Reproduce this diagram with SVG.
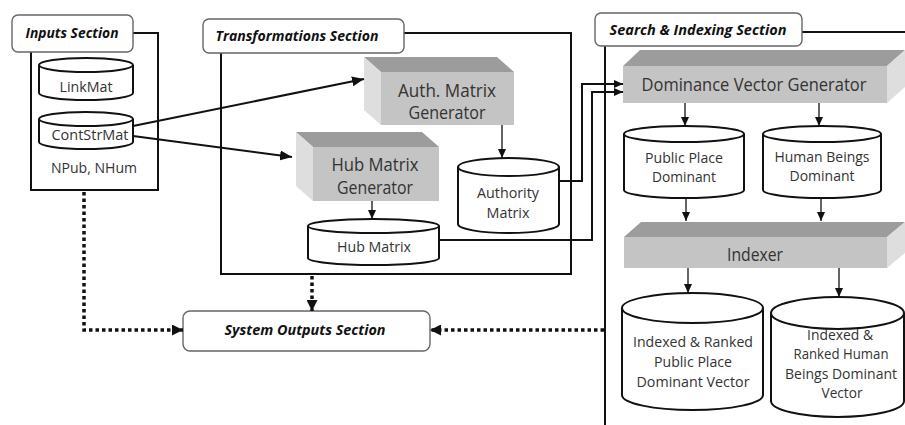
<svg xmlns="http://www.w3.org/2000/svg" width="905" height="425" viewBox="0 0 905 425">
  <defs>
    <style>
      .frame { fill: none; stroke: #111; stroke-width: 2; }
      .label { fill: #fff; stroke: #666; stroke-width: 1.4; }
      .lbl { font-family: "Open Sans", "Liberation Sans", sans-serif; font-size: 14px; font-weight: bold; font-style: italic; fill: #111; text-anchor: middle; }
      .txt { font-family: "Open Sans", "Liberation Sans", sans-serif; font-size: 14px; fill: #333; text-anchor: middle; }
      .big { font-family: "Open Sans", "Liberation Sans", sans-serif; font-size: 18px; fill: #333; text-anchor: middle; }
      .cyl { fill: #fff; stroke: #111; stroke-width: 2; }
      .front { fill: #c4c4c4; }
      .top { fill: #9c9c9c; }
      .side { fill: #dedede; }
      .wire { fill: none; stroke: #111; stroke-width: 2; }
      .thin { fill: none; stroke: #111; stroke-width: 1.3; }
      .dots { fill: none; stroke: #111; stroke-width: 3.5; stroke-dasharray: 3.5 3; }
    </style>
    <marker id="head" markerUnits="userSpaceOnUse" markerWidth="12" markerHeight="10" refX="12" refY="5" orient="auto">
      <path d="M0,0 L12,5 L0,10 Z" fill="#111"/>
    </marker>
    <marker id="headSmall" markerUnits="userSpaceOnUse" markerWidth="9" markerHeight="8" refX="9" refY="4" orient="auto">
      <path d="M0,0 L9,4 L0,8 Z" fill="#111"/>
    </marker>
    <marker id="headDot" markerUnits="userSpaceOnUse" markerWidth="11" markerHeight="11" refX="11" refY="5.5" orient="auto">
      <path d="M0,0 L11,5.5 L0,11 Z" fill="#111"/>
    </marker>
  </defs>

  <rect width="905" height="425" fill="#fff"/>

  <!-- Inputs section -->
  <g id="inputs-section">
    <path class="frame" d="M133,33 H158 V190 H31 V52"/>
    <rect class="label" x="12" y="15" width="121" height="37" rx="6"/>
    <text class="lbl" x="72" y="38" textLength="93" lengthAdjust="spacingAndGlyphs">Inputs Section</text>
  </g>
  <g id="linkmat">
    <path class="cyl" d="M39,65 V93 A47,7 0 0 0 133,93 V65"/>
    <ellipse class="cyl" cx="86" cy="65" rx="47" ry="7"/>
    <text class="txt" x="86" y="92" textLength="53" lengthAdjust="spacingAndGlyphs">LinkMat</text>
  </g>
  <g id="contstrmat">
    <path class="cyl" d="M39,119 V142 A47,7 0 0 0 133,142 V119"/>
    <ellipse class="cyl" cx="86" cy="119" rx="47" ry="7"/>
    <text class="txt" x="90" y="140" font-size="13" textLength="77" lengthAdjust="spacingAndGlyphs">ContStrMat</text>
  </g>
  <g id="npub-nhum">
    <text class="txt" x="94" y="173" font-size="15" textLength="86" lengthAdjust="spacingAndGlyphs">NPub, NHum</text>
  </g>

  <!-- Transformations section -->
  <g id="transformations-section">
    <path class="frame" d="M404,33 H571 V274 H221 V53"/>
    <rect class="label" x="203" y="19" width="201" height="34" rx="6"/>
    <text class="lbl" x="297" y="41" textLength="163" lengthAdjust="spacingAndGlyphs">Transformations Section</text>
  </g>
  <g id="auth-generator">
    <polygon class="top" points="364,57 497,57 514,72 381,72"/>
    <polygon class="side" points="364,57 381,72 381,125 364,110"/>
    <rect class="front" x="381" y="72" width="133" height="53"/>
    <text class="big" x="447" y="97" textLength="98" lengthAdjust="spacingAndGlyphs">Auth. Matrix</text>
    <text class="big" x="447" y="119" textLength="77" lengthAdjust="spacingAndGlyphs">Generator</text>
  </g>
  <g id="hub-generator">
    <polygon class="top" points="296,132 422,132 439,147 313,147"/>
    <polygon class="side" points="296,132 313,147 313,201 296,186"/>
    <rect class="front" x="313" y="147" width="126" height="54"/>
    <text class="big" x="375" y="171" textLength="87" lengthAdjust="spacingAndGlyphs">Hub Matrix</text>
    <text class="big" x="375" y="194" textLength="76" lengthAdjust="spacingAndGlyphs">Generator</text>
  </g>
  <g id="authority-matrix">
    <path class="cyl" d="M458,167 V224 A50.5,9 0 0 0 559,224 V167"/>
    <ellipse class="cyl" cx="508.5" cy="167" rx="50.5" ry="9"/>
    <text class="txt" x="508" y="198" textLength="62" lengthAdjust="spacingAndGlyphs">Authority</text>
    <text class="txt" x="508" y="218" textLength="43" lengthAdjust="spacingAndGlyphs">Matrix</text>
  </g>
  <g id="hub-matrix">
    <path class="cyl" d="M308,226 V258 A65.5,7 0 0 0 439,258 V226"/>
    <ellipse class="cyl" cx="373.5" cy="226" rx="65.5" ry="7"/>
    <text class="txt" x="374" y="252" textLength="74" lengthAdjust="spacingAndGlyphs">Hub Matrix</text>
  </g>

  <!-- Search & indexing section -->
  <g id="search-indexing-section">
    <path class="frame" d="M802,32 H905 M605,46 V425"/>
    <rect class="label" x="595" y="13" width="207" height="33" rx="6"/>
    <text class="lbl" x="698" y="35" textLength="177" lengthAdjust="spacingAndGlyphs">Search &amp; Indexing Section</text>
  </g>
  <g id="dominance-generator">
    <polygon class="top" points="623,66 640,50 905,50 887,66"/>
    <polygon class="side" points="887,66 905,50 905,87 887,103"/>
    <rect class="front" x="623" y="66" width="264" height="37"/>
    <text class="big" x="754" y="91" font-size="19" textLength="225" lengthAdjust="spacingAndGlyphs">Dominance Vector Generator</text>
  </g>
  <g id="public-place-dominant">
    <path class="cyl" d="M624,134 V190 A60,8 0 0 0 744,190 V134"/>
    <ellipse class="cyl" cx="684" cy="134" rx="60" ry="8"/>
    <text class="txt" x="684" y="163" textLength="78" lengthAdjust="spacingAndGlyphs">Public Place</text>
    <text class="txt" x="684" y="182" textLength="64" lengthAdjust="spacingAndGlyphs">Dominant</text>
  </g>
  <g id="human-beings-dominant">
    <path class="cyl" d="M763,134 V190 A59,8 0 0 0 881,190 V134"/>
    <ellipse class="cyl" cx="822" cy="134" rx="59" ry="8"/>
    <text class="txt" x="822" y="162" textLength="95" lengthAdjust="spacingAndGlyphs">Human Beings</text>
    <text class="txt" x="822" y="181" textLength="65" lengthAdjust="spacingAndGlyphs">Dominant</text>
  </g>
  <g id="indexer">
    <polygon class="top" points="624,237 641,222 905,222 887,237"/>
    <polygon class="side" points="887,237 905,222 905,253 887,268"/>
    <rect class="front" x="624" y="237" width="263" height="31"/>
    <text class="big" x="755" y="261" textLength="56" lengthAdjust="spacingAndGlyphs">Indexer</text>
  </g>
  <g id="indexed-public-place">
    <path class="cyl" d="M622,308 V395 A70.5,15 0 0 0 763,395 V308"/>
    <ellipse class="cyl" cx="692.5" cy="308" rx="70.5" ry="15"/>
    <text class="txt" x="693" y="347" textLength="120" lengthAdjust="spacingAndGlyphs">Indexed &amp; Ranked</text>
    <text class="txt" x="693" y="367" textLength="78" lengthAdjust="spacingAndGlyphs">Public Place</text>
    <text class="txt" x="693" y="387" textLength="113" lengthAdjust="spacingAndGlyphs">Dominant Vector</text>
  </g>
  <g id="indexed-human-beings">
    <path class="cyl" d="M771,313 V401 A66.5,16 0 0 0 904,401 V313"/>
    <ellipse class="cyl" cx="837.5" cy="313" rx="66.5" ry="16"/>
    <text class="txt" x="840" y="340" textLength="66" lengthAdjust="spacingAndGlyphs">Indexed &amp;</text>
    <text class="txt" x="841" y="359" textLength="95" lengthAdjust="spacingAndGlyphs">Ranked Human</text>
    <text class="txt" x="841" y="379" textLength="112" lengthAdjust="spacingAndGlyphs">Beings Dominant</text>
    <text class="txt" x="842" y="398" textLength="41" lengthAdjust="spacingAndGlyphs">Vector</text>
  </g>

  <!-- System outputs -->
  <g id="system-outputs">
    <rect class="label" x="183" y="311" width="247" height="40" rx="7"/>
    <text class="lbl" x="305" y="335" font-size="15" textLength="161" lengthAdjust="spacingAndGlyphs">System Outputs Section</text>
  </g>

  <!-- Connectors -->
  <g id="connectors">
    <path class="wire" d="M133,126 L364,79" marker-end="url(#head)"/>
    <path class="wire" d="M133,136 L292,157" marker-end="url(#head)"/>
    <path class="thin" d="M502,125 V158" marker-end="url(#headSmall)"/>
    <path class="thin" d="M372,201 V219" marker-end="url(#headSmall)"/>
    <path class="wire" d="M559,181 H582 V84 H623" marker-end="url(#headSmall)"/>
    <path class="wire" d="M439,240 H592 V92 H623" marker-end="url(#headSmall)"/>
    <path class="thin" d="M685,103 V126" marker-end="url(#headSmall)"/>
    <path class="thin" d="M819,103 V126" marker-end="url(#headSmall)"/>
    <path class="thin" d="M686,198 V221" marker-end="url(#headSmall)"/>
    <path class="thin" d="M821,198 V221" marker-end="url(#headSmall)"/>
    <path class="thin" d="M688,268 V293" marker-end="url(#headSmall)"/>
    <path class="thin" d="M839,268 V297" marker-end="url(#headSmall)"/>
    <path class="dots" d="M84,192 V330 H183" marker-end="url(#headDot)"/>
    <path class="dots" d="M312,276 V311" marker-end="url(#headDot)"/>
    <path class="dots" d="M604,330 H430" marker-end="url(#headDot)"/>
  </g>
</svg>
